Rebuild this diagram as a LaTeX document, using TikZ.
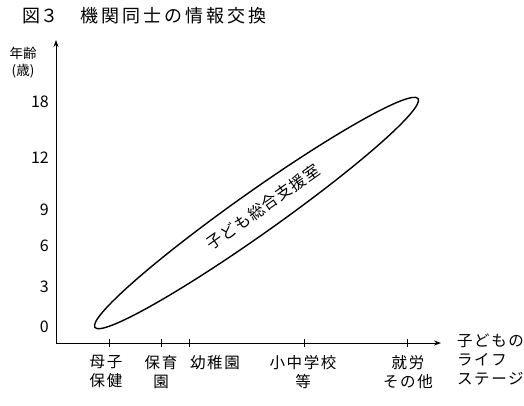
\documentclass[tikz,border=0pt]{standalone}
\usepackage{fontspec}
\setmainfont{Noto Sans CJK JP}
\newfontfamily\jp{Noto Sans CJK JP}
\usetikzlibrary{shapes.geometric,arrows.meta}
\begin{document}
\begin{tikzpicture}[x=1pt,y=-1pt,
  axis/.style={line width=0.9pt,-{Stealth[length=7pt,width=5pt]}},
  tickmark/.style={line width=0.8pt},
  lab/.style={font=\jp\fontsize{15.5}{19}\selectfont\addfontfeature{LetterSpace=10},align=center,inner sep=0pt,anchor=north},
  ylab/.style={font=\jp\fontsize{16}{16}\selectfont,anchor=east,inner sep=0pt},
  bubble/.style={draw,ellipse,line width=1.4pt,inner sep=0pt}]
\useasboundingbox (0,0) rectangle (524,405);
\node[anchor=west,inner sep=0pt,font=\jp\fontsize{18}{18}\selectfont] (t1) at (22,16) {図３};
\node[anchor=west,inner sep=0pt,font=\jp\fontsize{18}{18}\selectfont\addfontfeature{LetterSpace=17}] (t2) at (80,16) {機関同士の情報交換};
% axes
\coordinate (o) at (56,343);
\coordinate (ytop) at (56,40);
\coordinate (xend) at (441,343);
\draw[axis] (o) -- (ytop);
\draw[axis] (o) -- (xend);
\node[inner sep=0pt,font=\jp\fontsize{13.5}{17}\selectfont,align=center] (yname) at (23,63) {年齢\\(歳)};
\node[ylab] (y18) at (49,102) {18};
\node[ylab] (y12) at (49,158) {12};
\node[ylab] (y9) at (49,210) {9};
\node[ylab] (y6) at (49,246) {6};
\node[ylab] (y3) at (49,287) {3};
\node[ylab] (y0) at (49,327) {0};
% ticks
\foreach \n/\x in {a/109,b/161,c/189,d/304,e/407}{
  \coordinate (t\n) at (\x,343);
  \draw[tickmark] ([yshift=-4]t\n) -- ([yshift=4]t\n);
}
\node[lab] (la) at (106,355) {母子\\保健};
\node[lab] (lb) at (161,355) {保育\\園};
\node[lab] (lc) at (215,355) {幼稚園};
\node[lab] (ld) at (303,355) {小中学校\\等};
\node[lab] (le) at (408,355) {就労\\その他};
\node[lab,anchor=north west,align=left] (lx) at (457,334) {子どもの\\ライフ\\ステージ};
% ellipse
\node[bubble,rotate=35.3,minimum width=396pt,minimum height=42pt] (ell) at (256.5,213) {};
\node[rotate=35.3,inner sep=0pt,font=\jp\fontsize{16}{16}\selectfont\addfontfeature{LetterSpace=6}] (ellt) at (263,207) {子ども総合支援室};
\end{tikzpicture}
\end{document}
